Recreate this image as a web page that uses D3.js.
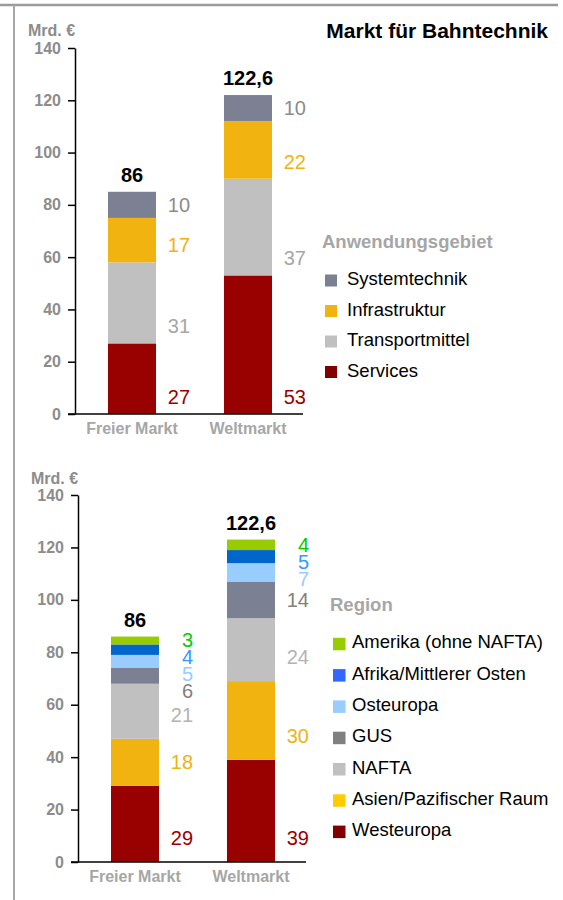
<!DOCTYPE html>
<html>
<head>
<meta charset="utf-8">
<script src="https://cdn.jsdelivr.net/npm/d3@7"></script>
<style>
  body { margin: 0; background: #fff; }
  svg { display: block; font-family: "Liberation Sans", Arial, sans-serif; }
</style>
</head>
<body>
<div id="chart"></div>
<script>
// data
const categories = ["Freier Markt", "Weltmarkt"]
const totalLabels = ["86", "122,6"]
const yTicks = [0, 20, 40, 60, 80, 100, 120, 140]

// Anwendungsgebiet, stacked bottom to top
const anwSeries = ["Services", "Transportmittel", "Infrastruktur", "Systemtechnik"]
const anwValues = [[27, 53], [31, 37], [17, 22], [10, 10]]

// Region, stacked bottom to top
const regSeries = ["Westeuropa", "Asien/Pazifischer Raum", "NAFTA", "GUS", "Osteuropa", "Afrika/Mittlerer Osten", "Amerika (ohne NAFTA)"]
const regValues = [[29, 39], [18, 30], [21, 24], [6, 14], [5, 7], [4, 5], [3, 4]]

const W = 563, H = 900
const svg = d3.select("#chart").append("svg")
  .attr("width", W)
  .attr("height", H)

// frame
svg.append("line").attr("x1", 0).attr("x2", 558).attr("y1", 5).attr("y2", 5)
  .attr("stroke", "#9a9a9a").attr("stroke-width", 2.5)
svg.append("line").attr("x1", 14).attr("x2", 14).attr("y1", 5).attr("y2", H)
  .attr("stroke", "#a6a6a6").attr("stroke-width", 2)

svg.append("text")
  .attr("x", 548).attr("y", 38)
  .attr("text-anchor", "end")
  .attr("font-weight", "bold").attr("font-size", 21)
  .attr("fill", "#000")
  .text("Markt für Bahntechnik")

function drawPanel(p) {
  let rows = categories.map((c, i) => {
    let r = { cat: c }
    p.series.forEach((s, j) => r[s] = p.values[j][i])
    return r
  })
  let stacked = d3.stack().keys(p.series)(rows)

  let y = d3.scaleLinear().domain([0, 140]).range([p.y0, p.y140])
  let x = d3.scaleBand().domain(categories)
    .range([p.ax + 33, p.ax + 197])
    .paddingInner(0.586).paddingOuter(0)
  let bw = x.bandwidth()

  let g = svg.append("g")

  // unit
  g.append("text")
    .attr("x", p.unit[0]).attr("y", p.unit[1])
    .attr("font-weight", "bold").attr("font-size", 16)
    .attr("fill", "#8c8c8c")
    .text("Mrd. €")

  // bars
  stacked.forEach((layer, li) => {
    g.selectAll(null)
      .data(layer)
      .enter()
      .append("rect")
      .attr("x", d => x(d.data.cat))
      .attr("y", d => y(d[1]))
      .attr("width", bw)
      .attr("height", d => y(d[0]) - y(d[1]))
      .attr("fill", p.barColors[li])
  })

  // axis
  let axis = g.append("g")
    .attr("transform", "translate(" + p.ax + ",0)")
    .call(d3.axisLeft(y).tickValues(yTicks).tickSize(7).tickPadding(7).tickSizeOuter(0))
  axis.selectAll(".domain").attr("stroke", "#000").attr("stroke-width", 1.5)
  axis.selectAll(".tick line").attr("stroke", "#000").attr("stroke-width", 1.5)
  axis.selectAll(".tick text")
    .attr("font-family", null)
    .attr("font-weight", "bold").attr("font-size", 16)
    .attr("fill", "#8c8c8c")

  g.append("line")
    .attr("x1", p.ax - 7).attr("x2", p.ax + 228)
    .attr("y1", y(0)).attr("y2", y(0))
    .attr("stroke", "#000").attr("stroke-width", 1.5)

  // category labels
  g.selectAll(null)
    .data(categories)
    .enter()
    .append("text")
    .attr("x", d => x(d) + bw / 2)
    .attr("y", y(0) + 20)
    .attr("text-anchor", "middle")
    .attr("font-weight", "bold").attr("font-size", 16)
    .attr("fill", "#a6a6a6")
    .text(d => d)

  // segment labels: near segment bottom, pushed apart from the top down
  categories.forEach((c, ci) => {
    let items = stacked.map((layer, li) => {
      let d = layer[ci]
      let center = (y(d[0]) + y(d[1])) / 2
      return { li: li, v: d[1] - d[0], pos: Math.max(center, y(d[0]) - p.k) }
    }).reverse()
    let prev = -Infinity
    items.forEach(it => {
      if (it.pos < prev + 17) it.pos = prev + 17
      prev = it.pos
    })
    g.selectAll(null)
      .data(items)
      .enter()
      .append("text")
      .attr("x", x(c) + bw + 34)
      .attr("y", d => d.pos)
      .attr("dy", "0.35em")
      .attr("text-anchor", "end")
      .attr("font-size", 20)
      .attr("fill", d => p.labelColors[d.li])
      .text(d => d.v)

    let top = stacked[stacked.length - 1][ci][1]
    g.append("text")
      .attr("x", x(c) + bw / 2)
      .attr("y", y(top) - 10)
      .attr("text-anchor", "middle")
      .attr("font-weight", "bold").attr("font-size", 20)
      .attr("fill", "#000")
      .text(totalLabels[ci])
  })

  // legend
  let lg = g.append("g")
  lg.append("text")
    .attr("x", p.legend.titleX).attr("y", p.legend.titleY)
    .attr("font-weight", "bold").attr("font-size", 18.5)
    .attr("fill", "#a6a6a6")
    .text(p.title)

  let order = p.series.map((s, i) => i).reverse()
  let item = lg.selectAll(null)
    .data(order)
    .enter()
    .append("g")
    .attr("transform", (d, i) => "translate(0," + (p.legend.y + i * p.legend.step) + ")")
  item.append("rect")
    .attr("x", p.legend.sqX).attr("y", -10.5)
    .attr("width", p.legend.sq).attr("height", p.legend.sq)
    .attr("fill", d => p.legendColors[d])
  item.append("text")
    .attr("x", p.legend.textX).attr("y", 0)
    .attr("font-size", 18.5)
    .attr("fill", "#000")
    .text(d => p.series[d])
}

drawPanel({
  series: anwSeries,
  values: anwValues,
  title: "Anwendungsgebiet",
  ax: 75, y0: 414, y140: 48, k: 17,
  unit: [28, 36],
  barColors: ["#990000", "#c0c0c0", "#f0b310", "#7c8093"],
  labelColors: ["#990000", "#a6a6a6", "#f0b310", "#8c8c8c"],
  legendColors: ["#800000", "#c0c0c0", "#f0b310", "#7c8093"],
  legend: { titleX: 322, titleY: 248, y: 285, step: 30.5, sqX: 325, sq: 12, textX: 347 }
})

drawPanel({
  series: regSeries,
  values: regValues,
  title: "Region",
  ax: 78, y0: 862, y140: 495, k: 24,
  unit: [31, 484],
  barColors: ["#990000", "#f0b310", "#c0c0c0", "#7c8093", "#99ccff", "#0066cc", "#99cc00"],
  labelColors: ["#990000", "#f0b310", "#b3b3b3", "#808080", "#99ccff", "#3399ff", "#00cc00"],
  legendColors: ["#800000", "#ffcc00", "#c0c0c0", "#808080", "#99ccff", "#3366ff", "#99cc00"],
  legend: { titleX: 330, titleY: 611, y: 648.3, step: 31.3, sqX: 333, sq: 12.5, textX: 352 }
})
</script>
</body>
</html>
